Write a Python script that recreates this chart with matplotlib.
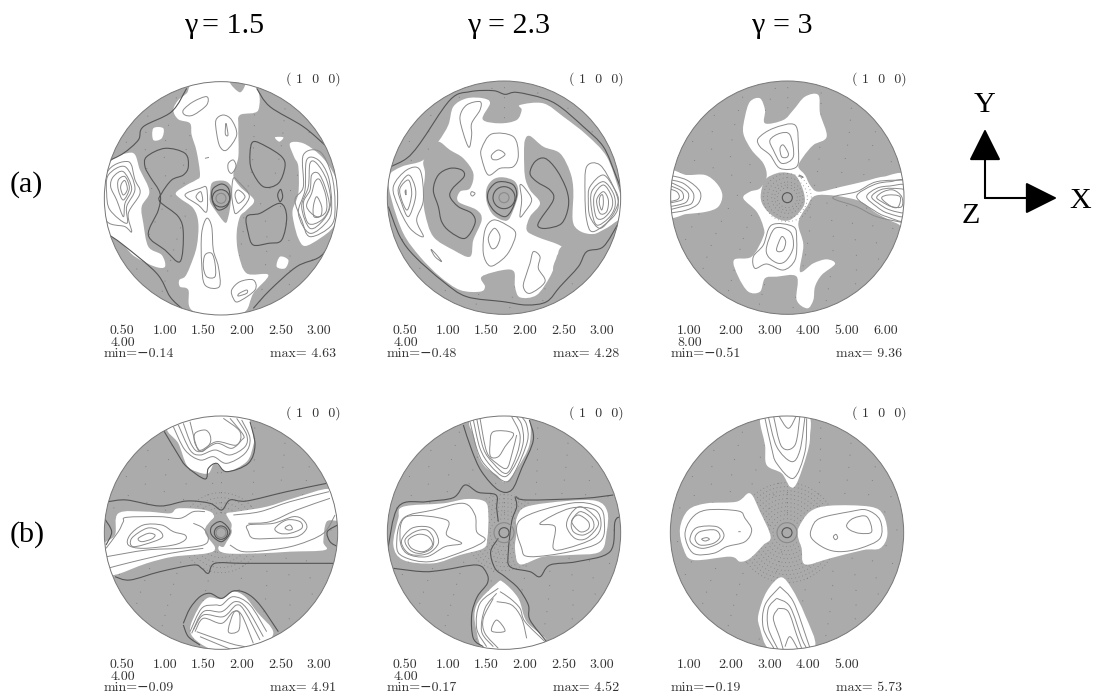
import numpy as np
import matplotlib
matplotlib.use("Agg")
import matplotlib.pyplot as plt
from matplotlib.path import Path
from matplotlib.patches import PathPatch, Circle

W, H = 1099, 697

# ---------- labels ----------
GAMMAS = ["1.5", "2.3", "3"]
ROWS = ["(a)", "(b)"]
A1_LEVELS = ["0.50", "1.00", "1.50", "2.00", "2.50", "3.00"]
A2_LEVELS = ["0.50", "1.00", "1.50", "2.00", "2.50", "3.00"]
A3_LEVELS = ["1.00", "2.00", "3.00", "4.00", "5.00", "6.00"]
B1_LEVELS = ["0.50", "1.00", "1.50", "2.00", "2.50", "3.00"]
B2_LEVELS = ["0.50", "1.00", "1.50", "2.00", "2.50", "3.00"]
B3_LEVELS = ["1.00", "2.00", "3.00", "4.00", "5.00"]
EXTRA_LEVEL = ["4.00", "4.00", "8.00", "4.00", "4.00", ""]
MINS = ["-0.14", "-0.48", "-0.51", "-0.09", "-0.17", "-0.19"]
MAXS = ["4.63", "4.28", "9.36", "4.91", "4.52", "5.73"]

# ---------- panel a1 (traced contours, in 1/3 px of the panel frame) ----------
A1_WHITE = [
    [(322,66),(290,100),(265,120),(250,150),(265,178),(300,190),(305,225),(320,275),(330,345),(318,360),(290,375),(258,398),(270,415),(310,445),(325,490),(320,560),(300,620),(285,650),(268,660),(270,680),(295,690),(305,750),(400,770),(465,755),(490,700),(535,645),(470,640),(445,580),(440,520),(450,470),(470,450),(492,420),(450,380),(430,345),(445,290),(445,200),(450,165),(505,150),(485,70)],
    [(48,325),(125,278),(150,330),(178,395),(155,440),(160,490),(175,560),(215,585),(225,620),(195,620),(135,590),(105,560),(40,490)],
    [(190,205),(220,205),(215,235),(190,240)],
    [(555,232),(580,232),(568,245)],
    [(570,590),(595,600),(585,625),(560,620)],
    [(600,250),(640,250),(690,285),(725,330),(745,380),(748,440),(730,500),(690,535),(645,558),(625,535),(612,490),(608,450),(625,400),(625,320),(612,290)],
]
A1_GRAY = [
    [(385,362),(365,370),(360,400),(360,425),(375,450),(405,488),(415,470),(422,430),(425,385),(410,365)],
    [(420,66),(465,66),(450,97)],
]
A1_DARK_OPEN = [
    [(50,305),(100,280),(145,240),(160,200),(245,155),(290,85)],
    [(500,85),(540,140),(640,200),(710,260)],
    [(50,520),(100,555),(200,640),(240,710),(275,745)],
    [(490,745),(540,690),(620,620),(690,590),(735,535)],
]
A1_DARK_LOOPS = [
    [(170,290),(225,265),(285,280),(295,320),(280,345),(245,360),(215,400),(210,425),(265,470),(280,520),(270,605),(225,570),(175,525),(205,450),(210,400),(180,350),(165,320)],
    [(490,245),(530,260),(575,290),(585,320),(565,370),(520,380),(485,330),(480,280)],
    [(470,470),(510,460),(570,430),(590,470),(575,540),(535,550),(490,555),(475,520)],
    [(572,388),(578,410),(570,425),(563,405)],
    [(370,385),(395,372),(415,385),(420,415),(410,440),(385,450),(370,430),(365,405)],
]
A1_LOOPS = [
    [(280,150),(310,125),(350,110),(350,135),(310,165),(285,165)],
    [(378,180),(400,165),(425,180),(440,225),(410,270),(390,260),(380,220)],
    [(408,190),(414,225),(406,222)],
    [(415,310),(430,300),(438,320),(425,340),(415,330)],
    [(285,405),(330,385),(350,385),(350,455),(325,435)],
    [(318,410),(332,395),(338,420),(330,425)],
    [(430,355),(445,365),(478,410),(440,460),(430,440),(425,400)],
    [(435,405),(445,390),(465,410),(445,430)],
    [(350,475),(365,500),(370,570),(385,620),(388,680),(345,675),(335,610),(335,520)],
    [(345,585),(365,580),(375,610),(375,650),(350,650),(340,620)],
    [(425,690),(450,665),(490,660),(495,690),(445,725),(430,715)],
    [(448,700),(470,690),(470,700),(445,708)],
    [(50,340),(115,305),(135,360),(150,400),(115,460),(125,515),(105,500),(45,475)],
    [(55,345),(105,320),(135,385),(110,440),(110,490),(60,450),(50,400)],
    [(70,350),(100,335),(125,385),(105,430),(100,470),(80,420),(62,380)],
    [(85,360),(105,350),(118,385),(100,420),(85,390)],
    [(95,370),(105,362),(112,388),(100,405),(92,385)],
    [(640,285),(690,275),(725,345),(735,430),(725,495),(660,530),(635,480),(615,420),(640,380)],
    [(650,300),(685,300),(715,350),(725,430),(715,480),(660,520),(625,460),(645,390)],
    [(660,310),(680,310),(710,360),(722,430),(700,480),(660,505),(635,440),(655,380)],
    [(665,345),(685,340),(705,380),(718,440),(695,480),(655,490),(640,430),(660,390)],
    [(675,365),(690,360),(708,410),(708,455),(680,470),(650,440),(665,400)],
    [(680,410),(695,440),(692,468),(672,470),(670,440)],
]
A1_OPEN = [[(345,295),(357,292)]]

# ---------- panel a2 ----------
A2_WHITE = [
    [(205,245),(235,195),(250,140),(290,115),(340,115),(360,130),(338,178),(390,190),(440,180),(455,150),(450,135),(520,130),(580,170),(650,225),(710,290),(745,385),(754,430),(745,480),(640,540),(575,560),(560,600),(540,650),(500,705),(450,712),(435,680),(432,635),(400,630),(335,650),(345,680),(330,695),(270,690),(210,650),(150,590),(100,520),(65,420),(56,350),(95,320),(160,300)],
]
A2_GRAY = [
    [(205,245),(240,270),(280,295),(310,340),(300,385),(270,395),(265,425),(320,450),(335,480),(310,540),(300,590),(250,570),(190,530),(165,460),(160,400),(165,340),(160,305),(180,270)],
    [(480,228),(520,260),(570,280),(600,335),(610,390),(608,480),(625,510),(660,522),(700,515),(745,490),(700,640),(560,640),(560,590),(575,560),(500,530),(470,510),(480,470),(510,430),(480,390),(465,350),(462,280),(465,240)],
    [(400,352),(435,365),(445,400),(430,450),(410,482),(370,465),(350,425),(350,385),(370,358)],
]
A2_DARK_OPEN = [
    [(62,320),(110,295),(150,250),(240,120),(300,95),(370,92),(405,103),(440,97),(520,115),(570,140),(640,200),(700,260),(735,340),(750,380)],
    [(55,440),(90,530),(135,590),(220,665),(290,710),(400,725),(470,735),(530,725),(570,680),(625,620),(650,575),(700,560),(745,490)],
]
A2_DARK_LOOPS = [
    [(190,390),(205,345),(240,325),(275,330),(282,350),(248,385),(240,410),(265,440),(305,460),(315,490),(285,535),(240,515),(215,485),(205,440)],
    [(480,340),(495,305),(525,295),(560,330),(590,390),(595,440),(575,490),(530,505),(505,500),(510,480),(550,420),(540,390),(500,365)],
    [(400,365),(430,375),(440,405),(425,450),(405,470),(375,455),(355,425),(355,395),(375,370)],
]
A2_LOOPS = [
    [(270,170),(290,135),(330,125),(330,150),(305,190),(305,225),(297,262),(280,220)],
    [(335,265),(365,222),(430,230),(445,285),(430,320),(390,325),(355,345),(335,295)],
    [(365,285),(385,270),(405,283),(385,298),(368,298)],
    [(305,395),(315,400),(308,408),(302,403)],
    [(450,375),(465,385),(485,420),(465,455),(450,470),(455,420)],
    [(345,510),(370,480),(410,495),(437,520),(420,570),(395,600),(360,618),(340,580)],
    [(360,520),(375,505),(390,530),(380,560),(365,565),(355,540)],
    [(490,575),(510,590),(505,625),(525,665),(480,700),(460,680),(470,640),(480,610)],
    [(183,568),(200,585),(215,605),(195,590)],
    [(70,380),(110,330),(150,330),(160,420),(140,480),(160,530),(120,505),(85,440)],
    [(85,385),(115,345),(135,380),(135,420),(115,470),(95,430)],
    [(90,385),(115,360),(125,395),(120,430),(110,450),(95,420)],
    [(105,395),(108,390),(108,405)],
    [(650,320),(690,315),(730,380),(745,430),(730,470),(670,515),(650,480),(645,400)],
    [(660,380),(700,345),(735,390),(745,425),(725,470),(690,505),(660,470),(655,420)],
    [(665,395),(700,365),(730,400),(735,440),(715,475),(680,495),(665,450)],
    [(672,410),(700,375),(725,410),(725,445),(700,475),(678,470)],
    [(680,420),(700,395),(715,420),(710,455),(690,460)],
    [(690,410),(698,405),(700,430),(695,450),(688,430)],
]
A2_OPEN = []

# ---------- panel a3 ----------
A3_WHITE = [
    [(300,125),(330,115),(345,150),(345,190),(400,180),(430,150),(465,110),(505,105),(510,160),(530,230),(490,255),(460,290),(445,320),(465,345),(480,375),(505,395),(575,380),(640,365),(700,350),(770,350),(770,495),(740,490),(680,460),(620,420),(505,405),(470,440),(445,490),(460,555),(450,635),(490,610),(530,598),(555,612),(515,645),(495,680),(490,720),(472,745),(440,720),(440,650),(380,650),(345,655),(330,695),(295,695),(265,650),(252,600),(305,590),(340,530),(340,500),(320,455),(280,415),(300,395),(330,385),(350,350),(340,310),(305,270),(280,220),(285,170)],
    [(55,338),(110,345),(165,345),(200,370),(217,405),(205,440),(170,455),(110,462),(55,465)],
]
A3_GRAY = [
    [(410,338),(440,350),(462,400),(460,440),(420,480),(380,475),(345,445),(332,410),(345,360),(380,340)],
]
A3_DARK_OPEN = []
A3_DARK_LOOPS = []
A3_LOOPS = [
    [(325,235),(370,205),(435,195),(445,265),(440,320),(390,325),(360,285),(330,260)],
    [(360,240),(390,220),(420,225),(430,290),(395,310),(370,270)],
    [(390,265),(400,255),(415,280),(410,292),(395,290)],
    [(448,345),(460,352),(450,350)],
    [(310,590),(340,555),(365,495),(430,500),(440,540),(435,600),(400,630),(350,612),(315,625)],
    [(350,560),(375,505),(420,515),(430,560),(410,600),(385,610),(355,590)],
    [(380,565),(395,530),(407,545),(400,570),(385,575)],
    [(620,410),(670,375),(720,365),(770,368),(770,478),(710,470),(670,450)],
    [(650,410),(680,385),(720,378),(770,380),(770,465),(715,460),(680,440)],
    [(665,410),(690,390),(725,385),(770,395),(770,455),(720,450),(685,430)],
    [(680,412),(700,395),(730,390),(755,410),(755,440),(725,440),(695,425)],
    [(695,415),(715,405),(750,410),(745,440),(725,440)],
]
A3_OPEN = [
    [(55,345),(110,360),(150,395),(145,430),(110,450),(55,460)],
    [(55,358),(100,370),(130,400),(125,430),(95,440),(55,450)],
    [(55,365),(90,380),(115,400),(110,425),(85,435),(55,440)],
    [(55,375),(90,390),(100,405),(95,420),(55,430)],
    [(55,385),(80,395),(88,410),(80,420),(55,425)],
    [(770,360),(680,365),(620,395),(548,413),(620,440),(680,470),(770,490)],
]

# ---------- panel b1 ----------
B1_WHITE = [
    [(232,160),(300,125),(385,118),(470,125),(490,185),(490,210),(470,260),(410,290),(375,265),(355,295),(320,290),(290,270),(265,205)],
    [(300,765),(325,700),(355,668),(395,672),(430,650),(465,665),(500,710),(550,775),(490,825),(393,830),(330,805)],
    [(85,415),(170,410),(240,415),(265,400),(345,405),(372,425),(345,470),(375,518),(350,535),(250,545),(170,565),(70,600),(50,570),(40,510),(75,480)],
    [(415,430),(410,415),(440,410),(530,395),(610,370),(720,342),(735,395),(748,435),(710,440),(700,500),(705,525),(600,530),(510,535),(410,535),(385,518),(415,480),(425,450)],
]
B1_GRAY = [
    [(393,428),(425,465),(410,500),(393,515),(345,470),(370,430)],
]
B1_DARK_OPEN = [
    [(220,165),(265,240),(290,275),(345,312),(355,280),(380,265),(410,290),(475,265),(495,210),(480,140)],
    [(280,745),(300,700),(330,665),(360,655),(395,670),(430,648),(470,655),(510,690),(565,770)],
    [(280,750),(295,785),(330,810)],
    [(55,380),(110,375),(210,393),(290,378),(360,385),(395,405),(420,375),(470,378),(590,350),(710,325)],
    [(75,605),(120,615),(210,590),(310,570),(335,580),(355,595),(375,565),(460,565),(620,565),(730,565)],
    [(43,430),(65,470),(48,510)],
    [(743,450),(712,470),(720,500),(743,515)],
]
B1_DARK_LOOPS = [
    [(393,440),(420,470),(395,500),(365,480),(365,455)],
]
B1_LOOPS = [
    [(120,480),(160,450),(215,450),(250,470),(285,480),(285,495),(250,510),(160,520),(115,510)],
    [(125,490),(170,460),(205,465),(218,485),(190,500),(130,515)],
    [(145,490),(175,475),(195,480),(185,492),(155,500)],
    [(475,450),(550,445),(610,425),(640,435),(650,460),(620,485),(550,490),(490,490),(475,470)],
    [(555,460),(590,435),(630,440),(635,460),(600,475),(570,475)],
    [(585,458),(600,450),(607,462),(595,465)],
    [(315,175),(345,165),(360,180),(360,205),(335,230),(315,205)],
    [(415,770),(430,715),(445,710),(450,730),(445,768)],
]
B1_OPEN = [
    [(48,520),(85,470),(100,440),(110,427),(210,425),(270,430),(310,410),(345,410)],
    [(50,545),(170,525),(270,520),(340,510),(355,490),(340,460),(310,445)],
    [(60,578),(130,560),(240,535),(340,520)],
    [(430,420),(510,410),(600,380),(717,350)],
    [(475,445),(540,440),(620,405),(720,370)],
    [(420,510),(460,530),(540,525),(620,510),(700,475),(735,420)],
    [(250,155),(285,225),(330,255),(370,245),(410,265),(465,235),(480,190),(455,135)],
    [(265,150),(300,225),(330,240),(375,225),(420,240),(465,215),(470,180),(440,130)],
    [(280,145),(305,210),(330,230),(380,205),(425,220),(455,195),(460,180),(420,130)],
    [(300,140),(320,215),(335,225),(380,200),(440,210),(450,170),(400,130)],
    [(300,770),(335,700),(375,690),(395,690),(430,665),(480,690),(530,770)],
    [(305,775),(340,710),(395,710),(435,680),(470,700),(520,785)],
    [(310,765),(340,720),(400,725),(440,690),(465,710),(510,795)],
    [(315,770),(340,730),(395,745),(430,710),(455,720),(490,805)],
    [(330,785),(390,810),(420,822)],
    [(320,770),(420,805),(465,815)],
]

# ---------- panel b2 ----------
B2_WHITE = [
    [(298,140),(340,118),(460,118),(480,140),(480,200),(460,250),(410,320),(380,300),(345,275),(325,240),(312,185)],
    [(85,430),(100,395),(220,385),(290,372),(345,380),(355,420),(352,490),(340,520),(270,540),(190,565),(100,555),(70,510)],
    [(440,430),(470,395),(590,378),(680,378),(712,410),(710,470),(690,530),(600,540),(520,545),(450,568),(435,520),(440,470)],
    [(380,625),(400,622),(445,670),(470,740),(530,800),(460,830),(350,830),(318,760),(320,690)],
]
B2_GRAY = []
B2_DARK_OPEN = [
    [(280,150),(305,225),(335,290),(385,345),(425,345),(455,280),(490,195),(478,135)],
    [(52,530),(85,395),(170,380),(250,368),(285,330),(325,352),(378,360),(380,400),(385,440)],
    [(70,580),(160,590),(220,585),(320,570),(350,595),(352,625),(322,665),(305,720),(310,790),(340,815)],
    [(438,365),(470,375),(640,370),(730,360)],
    [(752,425),(735,440),(720,530),(620,560),(540,570),(510,605),(480,590),(420,575),(415,530),(425,440),(440,395),(435,365)],
    [(385,490),(362,530),(375,580),(405,605),(445,640),(475,690),(480,735),(530,800)],
]
B2_DARK_LOOPS = []
B2_LOOPS = [
    [(80,510),(100,430),(190,405),(280,385),(315,420),(320,470),(345,495),(290,525),(180,560),(100,545)],
    [(90,490),(110,425),(230,435),(230,480),(275,505),(225,515),(170,545),(110,535)],
    [(95,495),(125,460),(170,455),(195,470),(205,505),(175,535),(130,540),(105,525)],
    [(105,495),(135,470),(170,465),(190,490),(185,520),(150,535),(120,525)],
    [(115,495),(145,478),(175,485),(187,510),(160,530),(125,520)],
    [(450,435),(600,385),(685,395),(703,440),(690,500),(600,530),(480,545),(455,520)],
    [(510,445),(600,400),(675,405),(693,450),(670,490),(590,520),(550,520),(555,455)],
    [(600,420),(630,395),(670,420),(685,450),(650,490),(615,490),(590,455)],
    [(605,440),(630,410),(665,430),(670,460),(640,480),(610,470)],
    [(605,440),(625,420),(655,440),(655,462),(630,470)],
    [(370,170),(430,175),(405,215),(385,245),(362,245),(360,210)],
    [(380,735),(405,768),(365,768)],
]
B2_OPEN = [
    [(300,140),(320,220),(345,270),(405,320),(435,290),(472,200),(470,150),(455,125)],
    [(310,135),(330,220),(360,270),(405,305),(440,260),(460,200),(455,150),(440,125)],
    [(320,130),(340,220),(370,265),(410,295),(440,240),(450,180),(425,125)],
    [(330,130),(350,230),(380,265),(410,280),(425,240),(440,180)],
    [(385,640),(330,685),(320,760),(350,815)],
    [(390,650),(420,670),(450,700),(465,740),(525,800)],
    [(380,655),(345,700),(335,770),(370,815)],
    [(370,670),(340,730),(345,775),(385,820)],
    [(380,680),(425,690),(455,730),(470,790)],
]

# ---------- panel b3 ----------
B3_WHITE = [
    [(330,135),(355,118),(470,118),(480,185),(470,240),(440,325),(420,335),(395,295),(350,270),(345,210)],
    [(90,460),(115,405),(170,385),(260,380),(300,355),(330,410),(362,485),(340,510),(300,550),(270,560),(240,545),(130,555),(100,520)],
    [(445,460),(480,410),(540,392),(660,395),(700,420),(712,480),(690,520),(640,525),(540,550),(465,568),(455,520),(445,490)],
    [(392,607),(425,640),(465,720),(495,815),(420,830),(355,820),(330,760),(325,720),(350,650)],
]
B3_GRAY = []
B3_DARK_OPEN = []
B3_DARK_LOOPS = []
B3_LOOPS = [
    [(105,480),(125,430),(170,405),(265,408),(285,430),(305,465),(285,500),(230,515),(190,535),(130,535)],
    [(120,490),(140,458),(200,455),(222,480),(205,505),(160,520),(130,510)],
    [(135,490),(150,470),(195,465),(210,485),(190,505),(150,510)],
    [(155,492),(170,488),(178,493),(165,498)],
    [(485,460),(510,430),(600,410),(650,405),(690,435),(690,490),(630,520),(570,530),(525,520),(485,490)],
    [(590,450),(610,430),(650,425),(665,470),(630,475),(600,465)],
    [(550,485),(558,478),(563,488),(556,494)],
]
B3_OPEN = [
    [(345,130),(365,220),(380,265),(430,310),(465,230),(470,130)],
    [(355,125),(380,215),(425,260),(450,225),(465,125)],
    [(370,120),(395,215),(435,210),(450,120)],
    [(385,120),(415,160),(440,120)],
    [(390,635),(430,680),(470,790),(480,820)],
    [(390,635),(345,690),(340,760),(375,825)],
    [(380,670),(355,700),(355,760),(385,825)],
    [(380,670),(420,695),(455,790),(470,820)],
    [(385,700),(370,730),(390,790),(400,825)],
    [(385,700),(415,710),(440,780),(455,820)],
    [(405,815),(420,785),(445,825)],
    [(265,470),(272,470)],
]

# ---------- rings around the pole of each panel ----------
STIPPLE_RINGS = [60, 90, 120, 150, 180, 210, 240, 270, 300, 330]
A1_RINGS_SOLID = [26, 15]
A2_RINGS_SOLID = [33, 15]
A3_RINGS_SOLID = [15]
B1_RINGS_SOLID = [20, 15]
B2_RINGS_SOLID = [15, 30]
B3_RINGS_SOLID = [15, 30]
A1_RINGS_DOTTED = []
A2_RINGS_DOTTED = []
A3_RINGS_DOTTED = [30, 38, 47, 60, 72]
B1_RINGS_DOTTED = [60, 75, 90, 105, 120]
B2_RINGS_DOTTED = [42, 54, 66, 78, 90, 102, 114]
B3_RINGS_DOTTED = [42, 54, 66, 78, 90, 102, 114, 126, 138, 150]

GRAY = "#ababab"
LINE = "#8a8a8a"
DARK = "#555555"
EDGE = "#777777"
INK = "#333333"
R = 350

plt.rcParams["font.family"] = ["DejaVu Sans"]
fig = plt.figure(figsize=(W / 100, H / 100), dpi=100, facecolor="white")


def curve(pts, closed):
    """Catmull-Rom style Bezier path through the traced vertices."""
    p = np.asarray(pts, float)
    n = len(p)
    v = [p[0]]
    c = [Path.MOVETO]
    segs = n if closed else n - 1
    for i in range(segs):
        if closed:
            p0, p1, p2, p3 = p[(i - 1) % n], p[i], p[(i + 1) % n], p[(i + 2) % n]
        else:
            p0, p1, p2, p3 = p[max(i - 1, 0)], p[i], p[i + 1], p[min(i + 2, n - 1)]
        v += [p1 + (p2 - p0) / 6, p2 - (p3 - p1) / 6, p2]
        c += [Path.CURVE4] * 3
    return Path(v, c)


SMALL = dict(family=["cmr10", "DejaVu Serif"], fontsize=10, color=INK,
             va="center", ha="left")


def panel(ox, oy, h, cx, cy, white, gray, dark_open, dark_loops, loops, opens,
          solid, dotted, dotted_z, levels, extra, vmin, vmax, hdr_y, shift):
    ax = fig.add_axes([ox / W, 1 - (oy + h) / H, 270 / W, h / H])
    ax.set_xlim(0, 810)
    ax.set_ylim(3 * h, 0)
    ax.axis("off")
    ax.add_patch(Circle((cx, cy), R, fc=GRAY, ec="none", zorder=1))
    clip = Circle((cx, cy), R, transform=ax.transData)

    def add(patch, z):
        patch.set_zorder(z)
        ax.add_patch(patch)
        patch.set_clip_path(clip)

    for r in STIPPLE_RINGS:
        add(Circle((cx, cy), r, fc="none", ec="#7a7a7a", lw=0.7,
                   ls=(0, (0.9, 34))), 2)
    for pts in white:
        add(PathPatch(curve(pts, True), fc="white", ec="none"), 3)
    for pts in gray:
        add(PathPatch(curve(pts, True), fc=GRAY, ec="none"), 4)
    for r in dotted:
        add(Circle((cx, cy), r, fc="none", ec="#7a7a7a", lw=0.6,
                   ls=(0, (0.9, 3.5))), dotted_z)
    for pts in loops:
        add(PathPatch(curve(pts, True), fc="none", ec=LINE, lw=0.7), 6)
    for pts in opens:
        add(PathPatch(curve(pts, False), fc="none", ec=LINE, lw=0.7), 6)
    for pts in dark_loops:
        add(PathPatch(curve(pts, True), fc="none", ec=DARK, lw=0.8), 7)
    for pts in dark_open:
        add(PathPatch(curve(pts, False), fc="none", ec=DARK, lw=0.8), 7)
    for i, r in enumerate(solid):
        add(Circle((cx, cy), r, fc="none", ec=DARK if i == 0 else LINE, lw=0.8), 8)
    ax.add_patch(Circle((cx, cy), R, fc="none", ec=EDGE, lw=0.7, zorder=9))

    ax.text(588 + shift, hdr_y, "( 1  0  0)", **SMALL)
    base = hdr_y + 756
    col_x = [60, 187, 303, 418, 535, 650]
    for x, s in zip(col_x, levels):
        ax.text(x + shift, base, s, **SMALL)
    if extra:
        ax.text(62 + shift, base + 35, extra, **SMALL)
    ax.text(42 + shift, base + 70, "min=" + vmin.replace("-", "\u2212"), **SMALL)
    ax.text(540 + shift, base + 70, "max= " + vmax, **SMALL)


panel(90, 60, 310, 393, 415, A1_WHITE, A1_GRAY, A1_DARK_OPEN, A1_DARK_LOOPS, A1_LOOPS, A1_OPEN,
      A1_RINGS_SOLID, A1_RINGS_DOTTED, 5, A1_LEVELS, EXTRA_LEVEL[0], MINS[0], MAXS[0], 57, 0)
panel(370, 60, 310, 402, 413, A2_WHITE, A2_GRAY, A2_DARK_OPEN, A2_DARK_LOOPS, A2_LOOPS, A2_OPEN,
      A2_RINGS_SOLID, A2_RINGS_DOTTED, 5, A2_LEVELS, EXTRA_LEVEL[1], MINS[1], MAXS[1], 57, 9)
panel(650, 60, 310, 412, 413, A3_WHITE, A3_GRAY, A3_DARK_OPEN, A3_DARK_LOOPS, A3_LOOPS, A3_OPEN,
      A3_RINGS_SOLID, A3_RINGS_DOTTED, 5, A3_LEVELS, EXTRA_LEVEL[2], MINS[2], MAXS[2], 57, 19)
panel(90, 375, 320, 393, 473, B1_WHITE, B1_GRAY, B1_DARK_OPEN, B1_DARK_LOOPS, B1_LOOPS, B1_OPEN,
      B1_RINGS_SOLID, B1_RINGS_DOTTED, 2.5, B1_LEVELS, EXTRA_LEVEL[3], MINS[3], MAXS[3], 114, 0)
panel(370, 375, 320, 402, 473, B2_WHITE, B2_GRAY, B2_DARK_OPEN, B2_DARK_LOOPS, B2_LOOPS, B2_OPEN,
      B2_RINGS_SOLID, B2_RINGS_DOTTED, 2.5, B2_LEVELS, EXTRA_LEVEL[4], MINS[4], MAXS[4], 114, 9)
panel(650, 375, 320, 411, 473, B3_WHITE, B3_GRAY, B3_DARK_OPEN, B3_DARK_LOOPS, B3_LOOPS, B3_OPEN,
      B3_RINGS_SOLID, B3_RINGS_DOTTED, 2.5, B3_LEVELS, EXTRA_LEVEL[5], MINS[5], MAXS[5], 114, 19)

# ---------- page-level text and the axis triad, in pixel coordinates ----------
page = fig.add_axes([0, 0, 1, 1], zorder=20)
page.set_xlim(0, W)
page.set_ylim(H, 0)
page.axis("off")
page.patch.set_alpha(0)

SERIF = dict(family="Liberation Serif", color="black", va="baseline", fontsize=21.6)
for xg, xr, s in zip([185, 468, 752], [202, 488, 773], GAMMAS):
    page.text(xg, 33, "\u03b3", ha="left", **SERIF)
    page.text(xr, 33, "= " + s, ha="left", **SERIF)
for y, s in zip([192, 542], ROWS):
    page.text(10, y, s, ha="left", **SERIF)
page.text(984, 112, "Y", ha="center", **SERIF)
page.text(1080, 208, "X", ha="center", **SERIF)
page.text(971, 223, "Z", ha="center", **SERIF)

ORIGIN = (985, 198)
for tip in [(985, 129), (1057, 198)]:
    page.annotate("", xy=tip, xytext=ORIGIN,
                  arrowprops=dict(arrowstyle="-|>,head_length=1.0,head_width=0.5",
                                  mutation_scale=20, lw=1.5, color="black",
                                  shrinkA=0, shrinkB=0))

fig.savefig("out.png", dpi=100)
